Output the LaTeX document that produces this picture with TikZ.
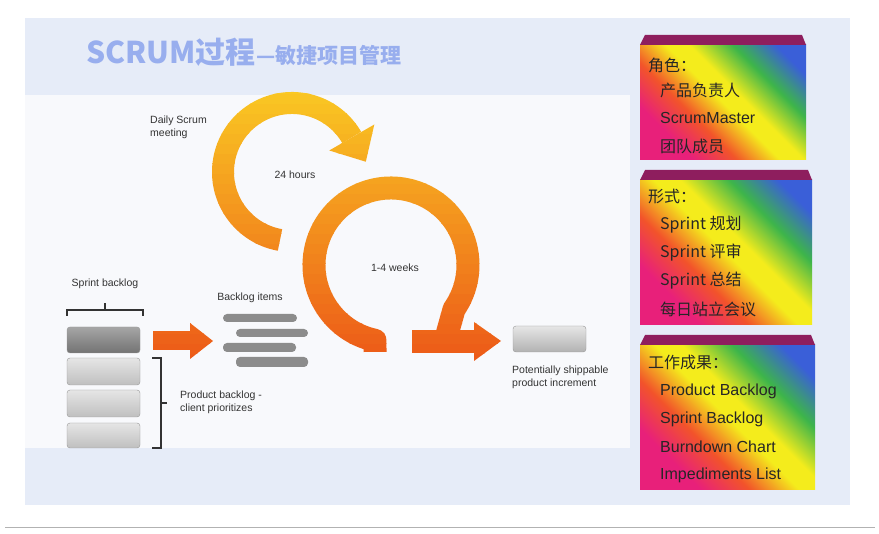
\documentclass[tikz,border=0pt]{standalone}
\usepackage{fontspec}
\setmainfont{Liberation Sans}
\newfontfamily\cjk{Noto Sans CJK SC}
\usetikzlibrary{calc}
\definecolor{cM}{HTML}{E8207A}
\definecolor{cR}{HTML}{F2542A}
\definecolor{cY}{HTML}{F4EC1C}
\definecolor{cG}{HTML}{3DB54A}
\definecolor{cB}{HTML}{3A5FD8}
\definecolor{bgband}{HTML}{E6ECF8}
\definecolor{bgmain}{HTML}{F8F9FC}
\definecolor{ringY}{HTML}{FAC823}
\definecolor{ringO}{HTML}{EC5A18}
\definecolor{bevel}{HTML}{8E1E5E}
\definecolor{titleblue}{HTML}{98AEEE}
\pgfdeclarehorizontalshading{rainbow}{100bp}{color(0bp)=(cM); color(28bp)=(cM); color(39bp)=(cR); color(50bp)=(cY); color(56bp)=(cY); color(67bp)=(cG); color(78bp)=(cB); color(100bp)=(cB)}
\newcommand\ringshapes{%
  \draw[line width=22pt] ($(292,362)+(260:69pt)$) arc[start angle=260,end angle=30,radius=69pt];
  \fill ($(351.8,396.5)+(30:26pt)$) -- ($(351.8,396.5)+(-60:28pt)$) -- ($(351.8,396.5)+(210:26pt)$) -- cycle;
  \draw[line width=23pt, line join=round] (375,182) -- ($(391,269)+(258:77pt)$) arc[start angle=258,end angle=-35,radius=77pt] -- (446,196);
  \fill (412,181) rectangle (476,204);
  \fill (474,212) -- (501,193) -- (474,173) -- cycle;
  \fill (153,184) rectangle (192,203);
  \fill (190,211) -- (213,193) -- (190,175) -- cycle;
}
\tikzset{
  lbl/.style={font=\fontsize{10.5}{12.5}\selectfont, text=black!80, align=left, inner sep=0pt},
  bar/.style={fill=black!45, rounded corners=4pt},
  blk/.style={rounded corners=3pt, draw=black!40},
  box/.style={shading=rainbow, shading angle=45},
  boxtxt/.style={font=\cjk\fontsize{16}{19}\selectfont, text=black!85, anchor=west, inner sep=0pt},
  brk/.style={draw=black!80, line width=1.3pt}
}
\begin{document}
\begin{tikzpicture}[x=1pt,y=1pt]
\useasboundingbox (0,0) rectangle (879,534);
\fill[white] (0,0) rectangle (879,534);
% backgrounds
\fill[bgmain] (25,29) rectangle (850,516);
\fill[bgband] (25,439) rectangle (850,516);
\fill[bgband] (25,29) rectangle (850,86);
\fill[bgband] (630,29) rectangle (850,516);
\draw[black!30, line width=0.8pt] (5,7) -- (875,7);
% title
\node[anchor=base west, inner sep=0pt, font=\cjk\bfseries\fontsize{30}{30}\selectfont, text=titleblue] (t1) at (86,470) {SCRUM过程};
\node[anchor=base west, inner sep=0pt, font=\cjk\bfseries\fontsize{21}{21}\selectfont, text=titleblue] (t2) at (t1.base east) {—敏捷项目管理};
% rings with vertical gradient via strips
\foreach \i in {0,...,29}{
  \pgfmathsetmacro\ya{170+\i*10}
  \pgfmathsetmacro\pct{min(100,\i/27*100)}
  \begin{scope}
    \clip (0,\ya) rectangle (879,\ya+10.6);
    \colorlet{cc}{ringY!\pct!ringO}
    \begin{scope}[color=cc]
      \ringshapes
    \end{scope}
  \end{scope}
}
% labels
\node[lbl, anchor=north west] (daily) at (150,418) {Daily Scrum\\meeting};
\node[lbl] (h24) at (295,359) {24 hours};
\node[lbl] (w14) at (395,266) {1-4 weeks};
\node[lbl] (sb) at (105,250) {Sprint backlog};
\node[lbl] (bi) at (250,236) {Backlog items};
\node[lbl, anchor=north west] (pb) at (180,143) {Product backlog -\\client prioritizes};
\node[lbl, anchor=north west] (pi) at (512,168) {Potentially shippable\\product increment};
% sprint backlog blocks
\shade[blk, top color=black!35, bottom color=black!55] (67,181) rectangle (140,207);
\shade[blk, top color=black!10, bottom color=black!25] (67,149) rectangle (140,176);
\shade[blk, top color=black!10, bottom color=black!25] (67,117) rectangle (140,144);
\shade[blk, top color=black!10, bottom color=black!25] (67,86) rectangle (140,111);
\draw[brk] (67,218) -- (67,224) -- (143,224) -- (143,218) (105,224) -- (105,231);
\draw[brk] (152,176) -- (161,176) -- (161,86) -- (152,86) (161,131) -- (167,131);
% backlog items
\fill[bar] (223,212) rectangle (297,220);
\fill[bar] (236,197) rectangle (308,205);
\fill[bar] (223,182) rectangle (296,191);
\fill[bar] (236,167) rectangle (308,177);
% increment
\shade[blk, top color=black!10, bottom color=black!30] (513,182) rectangle (586,208);
% right boxes
\foreach \yt/\yb/\xr in {499/374/806, 364/209/812, 199/44/815}{
  \fill[box] (640,\yb) rectangle (\xr,\yt-10);
  \fill[bevel] (640,\yt-10) -- (645,\yt) -- (\xr-4,\yt) -- (\xr,\yt-10) -- cycle;
}
\node[boxtxt] (r1) at (648,469) {角色：};
\node[boxtxt] (r2) at (660,444) {产品负责人};
\node[boxtxt, font=\fontsize{16}{19}\selectfont] (r3) at (660,416) {ScrumMaster};
\node[boxtxt] (r4) at (660,388) {团队成员};
\node[boxtxt] (f1) at (648,337) {形式：};
\node[boxtxt] (f2) at (660,309) {Sprint 规划};
\node[boxtxt] (f3) at (660,281) {Sprint 评审};
\node[boxtxt] (f4) at (660,253) {Sprint 总结};
\node[boxtxt] (f5) at (660,225) {每日站立会议};
\node[boxtxt] (w1) at (648,172) {工作成果：};
\node[boxtxt, font=\fontsize{16}{19}\selectfont] (w2) at (660,143) {Product Backlog};
\node[boxtxt, font=\fontsize{16}{19}\selectfont] (w3) at (660,115) {Sprint Backlog};
\node[boxtxt, font=\fontsize{16}{19}\selectfont] (w4) at (660,87) {Burndown Chart};
\node[boxtxt, font=\fontsize{16}{19}\selectfont] (w5) at (660,59) {Impediments List};
\end{tikzpicture}
\end{document}
